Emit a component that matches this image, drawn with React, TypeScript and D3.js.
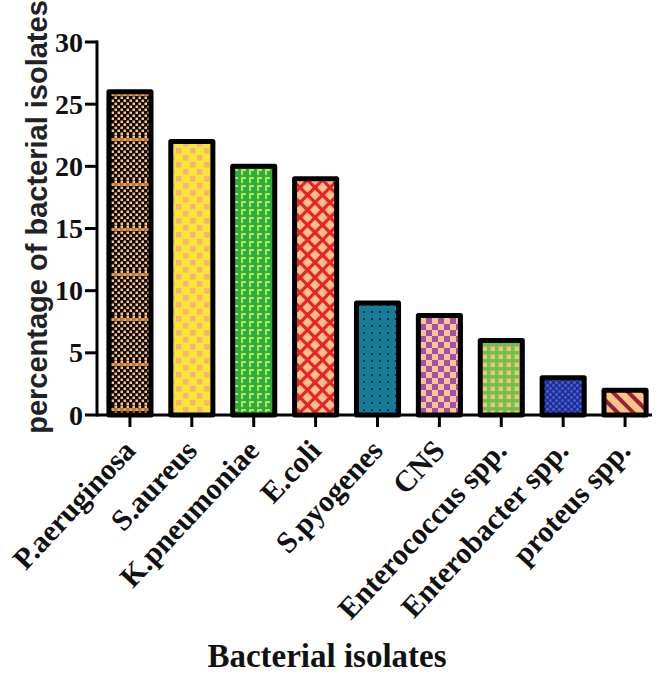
import React from "react";
import * as d3 from "d3";

const categories = [
  "P.aeruginosa",
  "S.aureus",
  "K.pneumoniae",
  "E.coli",
  "S.pyogenes",
  "CNS",
  "Enterococcus spp.",
  "Enterobacter spp.",
  "proteus spp.",
];
const values = [26, 22, 20, 19, 9, 8, 6, 3, 2];
const yTicks = [0, 5, 10, 15, 20, 25, 30];
const yTitle = "percentage of bacterial isolates";
const xTitle = "Bacterial isolates";

const W = 665;
const H = 680;
const SERIF = "'Liberation Serif', 'Times New Roman', serif";
const SANS = "'Liberation Sans', Arial, sans-serif";

function Patterns() {
  return (
    <defs>
      {/* P.aeruginosa: black with peach checker dots + orange bands */}
      <pattern id="p0" patternUnits="userSpaceOnUse" width={6} height={45}>
        <rect width={6} height={45} fill="#120804" />
        {d3.range(0, 45, 6).map((y) => (
          <g key={y}>
            <rect x={0.5} y={y + 0.5} width={2.5} height={2.5} fill="#f7c48c" />
            <rect x={3.5} y={y + 3.5} width={2.5} height={2.5} fill="#f7c48c" />
          </g>
        ))}
        <rect x={0} y={3} width={6} height={3} fill="#f39a3a" opacity={0.75} />
      </pattern>
      {/* S.aureus: yellow with peach squares */}
      <pattern id="p1" patternUnits="userSpaceOnUse" width={14} height={14}>
        <rect width={14} height={14} fill="#fbe534" />
        <rect x={1} y={1} width={5.5} height={5.5} fill="#f4b27c" />
        <rect x={8} y={8} width={5.5} height={5.5} fill="#f4b27c" />
      </pattern>
      {/* K.pneumoniae: green with light green L shapes */}
      <pattern id="p2" patternUnits="userSpaceOnUse" width={8} height={8}>
        <rect width={8} height={8} fill="#2eae3e" />
        <path d="M1,1 h5 v2 h-3 v4 h-2 z" fill="#b6e35a" />
      </pattern>
      {/* E.coli: red with peach diamonds */}
      <pattern id="p3" patternUnits="userSpaceOnUse" width={15} height={15}>
        <rect width={15} height={15} fill="#e8242a" />
        {[
          [0, 0],
          [15, 0],
          [0, 15],
          [15, 15],
          [7.5, 7.5],
        ].map(([cx, cy], i) => (
          <path
            key={i}
            d={`M${cx},${cy - 5.2} L${cx + 5.2},${cy} L${cx},${cy + 5.2} L${cx - 5.2},${cy} Z`}
            fill="#f8c08a"
          />
        ))}
      </pattern>
      {/* S.pyogenes: teal with dark dots */}
      <pattern id="p4" patternUnits="userSpaceOnUse" width={8} height={7}>
        <rect width={8} height={7} fill="#167c9a" />
        <rect x={3} y={3} width={2} height={2} fill="#0a2c3c" />
      </pattern>
      {/* CNS: purple / peach checker */}
      <pattern id="p5" patternUnits="userSpaceOnUse" width={12} height={12}>
        <rect width={12} height={12} fill="#fcc585" />
        <rect x={0} y={0} width={6} height={6} fill="#a04fb4" />
        <rect x={6} y={6} width={6} height={6} fill="#a04fb4" />
      </pattern>
      {/* Enterococcus: green grid with peach squares */}
      <pattern id="p6" patternUnits="userSpaceOnUse" width={8} height={8}>
        <rect width={8} height={8} fill="#6dc247" />
        <rect x={2.5} y={2.5} width={4.5} height={4.5} fill="#f7bf82" />
      </pattern>
      {/* Enterobacter: dark blue with blue dots */}
      <pattern id="p7" patternUnits="userSpaceOnUse" width={6} height={6}>
        <rect width={6} height={6} fill="#1f2e96" />
        <circle cx={1.5} cy={1.5} r={1.4} fill="#4a5fd2" />
        <circle cx={4.5} cy={4.5} r={1.4} fill="#4a5fd2" />
      </pattern>
      {/* proteus: peach with dark red diagonal stripes */}
      <pattern
        id="p8"
        patternUnits="userSpaceOnUse"
        width={11}
        height={11}
        patternTransform="rotate(-45)"
      >
        <rect width={11} height={11} fill="#f9c585" />
        <rect x={0} y={0} width={4} height={11} fill="#9c1d3c" />
      </pattern>
    </defs>
  );
}

export default function App() {
  const x = d3
    .scaleBand<string>()
    .domain(categories)
    .range([99, 656])
    .paddingInner(0.32)
    .paddingOuter(0.16);
  const y = d3.scaleLinear().domain([0, 30]).range([415, 42]);
  const axisX0 = 97;
  const axisX1 = 652;
  const y0 = y(0);

  return (
    <svg
      width={W}
      height={H}
      style={{ position: "absolute", left: 0, top: 0, background: "#fff" }}
    >
      <Patterns />
      {/* bars */}
      {categories.map((c, i) => (
        <rect
          key={c}
          x={x(c)!}
          y={y(values[i])}
          width={x.bandwidth()}
          height={y0 - y(values[i])}
          fill={`url(#p${i})`}
          stroke="#000"
          strokeWidth={5}
          strokeLinejoin="round"
        />
      ))}
      {/* y axis */}
      <line x1={axisX0} x2={axisX0} y1={y(30) - 1.5} y2={y0 + 1.5} stroke="#000" strokeWidth={3} />
      {yTicks.map((t) => (
        <g key={t}>
          <line x1={axisX0 - 12} x2={axisX0} y1={y(t)} y2={y(t)} stroke="#000" strokeWidth={3} />
          <text
            x={axisX0 - 14}
            y={y(t)}
            dy="0.34em"
            textAnchor="end"
            fontFamily={SERIF}
            fontWeight="bold"
            fontSize={28}
            fill="#111"
          >
            {t}
          </text>
        </g>
      ))}
      {/* x axis */}
      <line x1={axisX0} x2={axisX1} y1={y0} y2={y0} stroke="#000" strokeWidth={3} />
      {categories.map((c) => {
        const cx = x(c)! + x.bandwidth() / 2;
        return (
          <g key={c}>
            <line x1={cx} x2={cx} y1={y0} y2={y0 + 12} stroke="#000" strokeWidth={3} />
            <text
              transform={`translate(${cx + 7},${y0 + 37}) rotate(-47)`}
              textAnchor="end"
              fontFamily={SERIF}
              fontWeight="bold"
              fontSize={30}
              fill="#111"
            >
              {c}
            </text>
          </g>
        );
      })}
      {/* titles */}
      <text
        transform={`translate(47,217) rotate(-90)`}
        textAnchor="middle"
        fontFamily={SANS}
        fontWeight="bold"
        fontSize={29}
        fill="#222"
      >
        {yTitle}
      </text>
      <text
        x={327}
        y={667}
        textAnchor="middle"
        fontFamily={SERIF}
        fontWeight="bold"
        fontSize={33}
        fill="#111"
      >
        {xTitle}
      </text>
    </svg>
  );
}
